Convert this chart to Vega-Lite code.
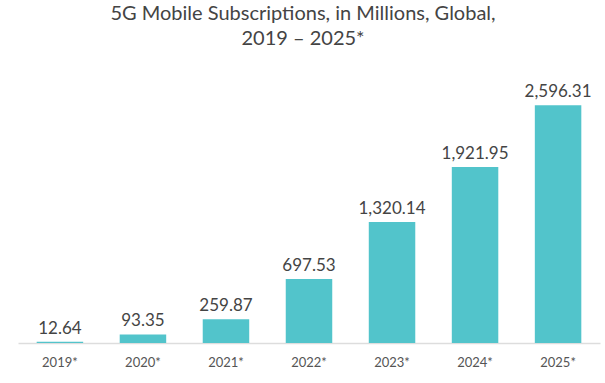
{
  "$schema": "https://vega.github.io/schema/vega-lite/v6.json",
  "width": 582,
  "height": 273,
  "autosize": {"type": "none"},
  "padding": {"left": 18, "top": 70, "right": 5, "bottom": 40},
  "background": "white",
  "title": {
    "text": ["5G Mobile Subscriptions, in Millions, Global,", "2019 – 2025*"],
    "anchor": "middle",
    "fontSize": 20,
    "font": "Lato",
    "fontWeight": "normal",
    "color": "#444444",
    "lineHeight": 25,
    "offset": 21,
    "dx": -6
  },
  "data": {
    "values": [
      {"year": "2019*", "value": 12.64},
      {"year": "2020*", "value": 93.35},
      {"year": "2021*", "value": 259.87},
      {"year": "2022*", "value": 697.53},
      {"year": "2023*", "value": 1320.14},
      {"year": "2024*", "value": 1921.95},
      {"year": "2025*", "value": 2596.31}
    ]
  },
  "encoding": {
    "x": {
      "field": "year",
      "type": "nominal",
      "sort": null,
      "scale": {"paddingInner": 0.44, "paddingOuter": 0.225},
      "axis": {
        "title": null,
        "labelAngle": 0,
        "labelFont": "Lato",
        "labelFontSize": 13,
        "labelColor": "#555555",
        "labelPadding": 13,
        "ticks": false,
        "domainColor": "#dddddd",
        "domainWidth": 1.5
      }
    },
    "y": {
      "field": "value",
      "type": "quantitative",
      "scale": {"domain": [0, 2980]},
      "axis": null
    }
  },
  "layer": [
    {"mark": {"type": "bar", "color": "#52c4cb"}},
    {
      "mark": {"type": "text", "dy": -13, "font": "Lato", "fontSize": 17, "color": "#444444"},
      "encoding": {"text": {"field": "value", "type": "quantitative", "format": ",.2f"}}
    }
  ],
  "config": {"view": {"stroke": null}}
}
